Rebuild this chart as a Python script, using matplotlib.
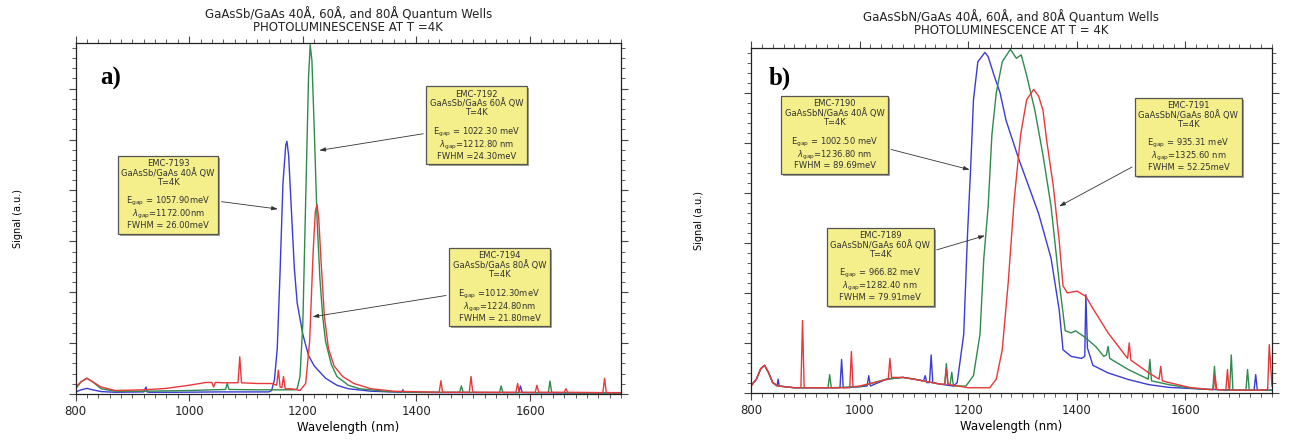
import matplotlib
matplotlib.use("Agg")
import matplotlib.pyplot as plt
import matplotlib.patheffects as pe
from matplotlib.ticker import MultipleLocator, NullFormatter

# ---- panel a) GaAsSb/GaAs wells ----
a_7193_nm = [800, 810, 820, 830, 845, 870, 920, 924, 926, 930, 980, 1050, 1100, 1140, 1145, 1150,
             1155, 1160, 1165, 1170, 1172, 1175, 1180, 1185, 1190, 1200, 1210, 1220, 1240, 1260,
             1280, 1320, 1374, 1376, 1378, 1450, 1580, 1583, 1586, 1650, 1760]
a_7193_sig = [0.006, 0.012, 0.016, 0.012, 0.007, 0.005, 0.006, 0.02, 0.006, 0.005, 0.005, 0.006,
              0.006, 0.006, 0.01, 0.04, 0.13, 0.35, 0.6, 0.71, 0.72, 0.68, 0.52, 0.36, 0.26, 0.17,
              0.11, 0.08, 0.045, 0.025, 0.015, 0.008, 0.005, 0.012, 0.005, 0.004, 0.004, 0.023,
              0.004, 0.003, 0.003]

a_7192_nm = [800, 810, 820, 830, 845, 870, 920, 1000, 1064, 1067, 1070, 1120, 1170, 1185, 1190,
             1195, 1200, 1205, 1210, 1213, 1216, 1220, 1225, 1230, 1235, 1240, 1250, 1260, 1280,
             1300, 1350, 1400, 1476, 1479, 1482, 1546, 1549, 1552, 1632, 1635, 1638, 1700, 1760]
a_7192_sig = [0.015, 0.035, 0.045, 0.035, 0.015, 0.008, 0.008, 0.01, 0.013, 0.03, 0.013, 0.012,
              0.012, 0.012, 0.015, 0.05, 0.2, 0.55, 0.9, 0.995, 0.95, 0.76, 0.5, 0.33, 0.22, 0.15,
              0.085, 0.05, 0.025, 0.015, 0.007, 0.005, 0.005, 0.023, 0.005, 0.004, 0.023, 0.004,
              0.004, 0.037, 0.004, 0.003, 0.003]

a_7194_nm = [800, 810, 820, 830, 845, 870, 920, 960, 1000, 1030, 1040, 1043, 1046, 1060, 1086,
             1089, 1092, 1120, 1145, 1154, 1157, 1160, 1163, 1166, 1169, 1180, 1195, 1205, 1212,
             1218, 1222, 1225, 1228, 1232, 1238, 1245, 1255, 1270, 1290, 1320, 1360, 1440, 1443,
             1446, 1493, 1496, 1499, 1575, 1578, 1581, 1609, 1612, 1615, 1660, 1663, 1666, 1728,
             1731, 1734, 1760]
a_7194_sig = [0.02, 0.035, 0.045, 0.035, 0.02, 0.01, 0.012, 0.016, 0.025, 0.033, 0.033, 0.02,
              0.033, 0.032, 0.032, 0.106, 0.032, 0.03, 0.03, 0.025, 0.068, 0.02, 0.018, 0.05,
              0.015, 0.015, 0.01, 0.03, 0.15, 0.4, 0.52, 0.54, 0.5, 0.38, 0.22, 0.13, 0.08, 0.05,
              0.03, 0.015, 0.008, 0.005, 0.038, 0.005, 0.005, 0.05, 0.005, 0.005, 0.03, 0.005,
              0.005, 0.025, 0.005, 0.005, 0.015, 0.005, 0.004, 0.045, 0.004, 0.004]

# ---- panel b) GaAsSbN/GaAs wells ----
b_7190_nm = [800, 810, 818, 825, 832, 840, 848, 850, 852, 880, 950, 964, 967, 970, 1000, 1014,
             1017, 1020, 1050, 1080, 1100, 1118, 1121, 1124, 1129, 1132, 1135, 1150, 1173, 1180,
             1192, 1199, 1205, 1210, 1218, 1231, 1237, 1248, 1259, 1270, 1293, 1330, 1353, 1368,
             1375, 1390, 1409, 1415, 1417, 1420, 1430, 1458, 1495, 1533, 1570, 1645, 1700, 1727,
             1730, 1733, 1760]
b_7190_sig = [0.02, 0.04, 0.07, 0.08, 0.06, 0.03, 0.02, 0.04, 0.02, 0.015, 0.015, 0.015, 0.097,
              0.015, 0.018, 0.02, 0.05, 0.02, 0.04, 0.045, 0.04, 0.035, 0.05, 0.03, 0.03, 0.11,
              0.03, 0.025, 0.02, 0.03, 0.17, 0.46, 0.66, 0.85, 0.96, 0.987, 0.975, 0.92, 0.87,
              0.79, 0.68, 0.52, 0.39, 0.24, 0.125, 0.106, 0.10, 0.106, 0.285, 0.13, 0.08, 0.058,
              0.039, 0.024, 0.016, 0.01, 0.008, 0.008, 0.053, 0.008, 0.008]

b_7189_nm = [800, 810, 818, 825, 832, 840, 850, 880, 942, 945, 948, 1000, 1050, 1080, 1100, 1150,
             1157, 1160, 1163, 1167, 1170, 1173, 1196, 1210, 1222, 1229, 1237, 1244, 1252, 1263,
             1278, 1289, 1298, 1308, 1323, 1338, 1353, 1368, 1379, 1390, 1398, 1413, 1435, 1450,
             1455, 1458, 1461, 1495, 1532, 1535, 1538, 1570, 1608, 1645, 1651, 1654, 1657, 1682,
             1685, 1688, 1712, 1715, 1718, 1760]
b_7189_sig = [0.02, 0.04, 0.07, 0.08, 0.06, 0.03, 0.02, 0.015, 0.015, 0.053, 0.015, 0.018, 0.04,
              0.045, 0.04, 0.025, 0.025, 0.085, 0.025, 0.025, 0.06, 0.02, 0.02, 0.05, 0.17, 0.39,
              0.54, 0.75, 0.87, 0.96, 0.996, 0.97, 0.98, 0.92, 0.82, 0.69, 0.54, 0.32, 0.18, 0.174,
              0.18, 0.164, 0.135, 0.106, 0.11, 0.135, 0.1, 0.068, 0.04, 0.097, 0.035, 0.024,
              0.014, 0.01, 0.01, 0.077, 0.01, 0.008, 0.11, 0.008, 0.008, 0.068, 0.008, 0.008]

b_7191_nm = [800, 810, 818, 825, 832, 840, 850, 880, 892, 895, 898, 950, 982, 985, 988, 1000,
             1053, 1056, 1059, 1080, 1100, 1150, 1157, 1160, 1163, 1200, 1240, 1252, 1263, 1274,
             1285, 1297, 1308, 1321, 1330, 1338, 1345, 1357, 1368, 1375, 1383, 1401, 1417, 1428,
             1458, 1494, 1497, 1500, 1533, 1552, 1555, 1558, 1570, 1608, 1645, 1652, 1655, 1658,
             1675, 1678, 1681, 1740, 1752, 1755, 1760]
b_7191_sig = [0.02, 0.04, 0.07, 0.08, 0.06, 0.03, 0.02, 0.015, 0.015, 0.21, 0.015, 0.015, 0.015,
              0.12, 0.018, 0.02, 0.04, 0.10, 0.045, 0.045, 0.04, 0.025, 0.025, 0.07, 0.025, 0.015,
              0.015, 0.04, 0.125, 0.32, 0.56, 0.75, 0.85, 0.88, 0.86, 0.82, 0.73, 0.6, 0.44, 0.31,
              0.29, 0.295, 0.28, 0.25, 0.174, 0.10, 0.145, 0.095, 0.058, 0.04, 0.077, 0.035, 0.03,
              0.016, 0.01, 0.01, 0.05, 0.01, 0.008, 0.068, 0.008, 0.008, 0.01, 0.14, 0.02]

BLUE = "#3b3bd6"
GREEN = "#2f8a4e"
RED = "#e8383a"
BOX = "#f4ef8a"

# label text, box centre (nm, signal), arrow tip (nm, signal)
a_notes = [
    ("EMC-7193\nGaAsSb/GaAs 40Å QW\nT=4K\n\n"
     "E$_{\\rm gap}$ = 1057.90meV\n$\\lambda_{\\rm gap}$=1172.00nm\nFWHM = 26.00meV",
     (963, 0.568), (1156, 0.527)),
    ("EMC-7192\nGaAsSb/GaAs 60Å QW\nT=4K\n\n"
     "E$_{\\rm gap}$ = 1022.30 meV\n$\\lambda_{\\rm gap}$=1212.80 nm\nFWHM =24.30meV",
     (1506, 0.766), (1229, 0.694)),
    ("EMC-7194\nGaAsSb/GaAs 80Å QW\nT=4K\n\n"
     "E$_{\\rm gap}$ =1012.30meV\n$\\lambda_{\\rm gap}$=1224.80nm\nFWHM = 21.80meV",
     (1546, 0.305), (1217, 0.22)),
]
b_notes = [
    ("EMC-7190\nGaAsSbN/GaAs 40Å QW\nT=4K\n\n"
     "E$_{\\rm gap}$ = 1002.50 meV\n$\\lambda_{\\rm gap}$=1236.80 nm\nFWHM = 89.69meV",
     (954, 0.748), (1203, 0.647)),
    ("EMC-7189\nGaAsSbN/GaAs 60Å QW\nT=4K\n\n"
     "E$_{\\rm gap}$ = 966.82 meV\n$\\lambda_{\\rm gap}$=1282.40 nm\nFWHM = 79.91meV",
     (1038, 0.366), (1231, 0.456)),
    ("EMC-7191\nGaAsSbN/GaAs 80Å QW\nT=4K\n\n"
     "E$_{\\rm gap}$ = 935.31 meV\n$\\lambda_{\\rm gap}$=1325.60 nm\nFWHM = 52.25meV",
     (1606, 0.743), (1368, 0.541)),
]


def style_axes(ax, title, tag, tag_xy, ylab_x, title_pad):
    ax.set_xlim(800, 1760)
    ax.set_ylim(0, 1)
    ax.xaxis.set_major_locator(MultipleLocator(200))
    ax.xaxis.set_minor_locator(MultipleLocator(20))
    ax.yaxis.set_major_locator(MultipleLocator(0.145))
    ax.yaxis.set_minor_locator(MultipleLocator(0.029))
    ax.yaxis.set_major_formatter(NullFormatter())
    ax.tick_params(which="both", direction="out", top=True, right=True, labelsize=8.5,
                   colors="#444444", labelcolor="#222222")
    ax.tick_params(which="major", length=5, width=0.8, pad=3)
    ax.tick_params(which="minor", length=3, width=0.6)
    for s in ax.spines.values():
        s.set_linewidth(0.9)
        s.set_color("#222222")
    ax.set_xlabel("Wavelength (nm)", fontsize=8.5, labelpad=2)
    ax.set_ylabel("Signal (a.u.)", fontsize=7)
    ax.yaxis.set_label_coords(ylab_x, 0.5)
    ax.set_title(title, fontsize=8.5, linespacing=1.0, pad=title_pad, color="#222222")
    ax.text(tag_xy[0], tag_xy[1], tag, transform=ax.transAxes, fontsize=18, fontweight="bold",
            family="Liberation Serif", va="center")


def add_notes(ax, notes):
    for text, box_xy, tip_xy in notes:
        t = ax.annotate(text, xy=tip_xy, xytext=box_xy, fontsize=6, ha="center", va="center",
                        multialignment="center", linespacing=0.98, color="#333333",
                        bbox=dict(boxstyle="square,pad=0.42", fc=BOX, ec="#555555", lw=0.9),
                        arrowprops=dict(arrowstyle="-|>,head_length=0.6,head_width=0.2",
                                        color="#333333", lw=0.6, shrinkB=0))
        t.get_bbox_patch().set_path_effects([pe.SimplePatchShadow(offset=(1.5, -1.5),
                                                                  alpha=0.5), pe.Normal()])


fig = plt.figure(figsize=(12.89, 4.4), dpi=100)

ax1 = fig.add_axes([0.0586, 0.1045, 0.4232, 0.7977])
ax1.plot(a_7193_nm, a_7193_sig, color=BLUE, lw=1.0)
ax1.plot(a_7192_nm, a_7192_sig, color=GREEN, lw=1.0)
ax1.plot(a_7194_nm, a_7194_sig, color=RED, lw=1.0)
style_axes(ax1, "GaAsSb/GaAs 40Å, 60Å, and 80Å Quantum Wells\nPHOTOLUMINESCENSE AT T =4K", "a)",
           (0.045, 0.9), -0.097, 8.5)
add_notes(ax1, a_notes)

ax2 = fig.add_axes([0.5826, 0.107, 0.4042, 0.784])
ax2.plot(b_7190_nm, b_7190_sig, color=BLUE, lw=1.0)
ax2.plot(b_7189_nm, b_7189_sig, color=GREEN, lw=1.0)
ax2.plot(b_7191_nm, b_7191_sig, color=RED, lw=1.0)
style_axes(ax2, "GaAsSbN/GaAs 40Å, 60Å, and 80Å Quantum Wells\nPHOTOLUMINESCENCE AT T = 4K", "b)",
           (0.034, 0.913), -0.09, 10)
add_notes(ax2, b_notes)

fig.savefig("out.png", dpi=100)
